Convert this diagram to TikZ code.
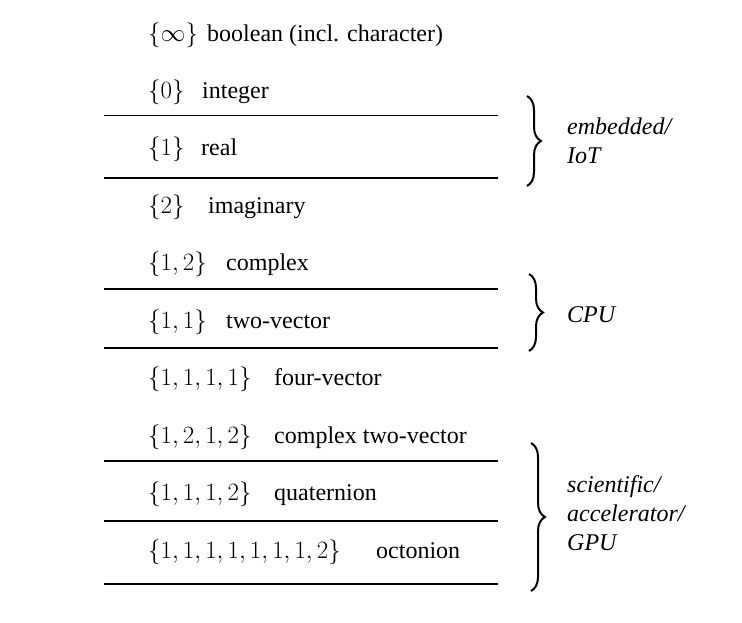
\documentclass[tikz,border=0pt]{standalone}
\usepackage{fontspec}
\setmainfont{Liberation Serif}
\usetikzlibrary{decorations.pathreplacing}
\tikzset{
  cell/.style={anchor=base west, inner sep=0pt, font=\fontsize{24}{28}\selectfont},
  setc/.style={anchor=base west, inner sep=0pt, font=\fontsize{25.5}{28}\selectfont},
  tag/.style={anchor=base west, inner sep=0pt, font=\fontsize{24}{29}\selectfont\itshape, align=left},
  sep/.style={line width=1.1pt},
  grp/.style={decorate, decoration={brace, amplitude=14pt}, line width=2pt}
}
\begin{document}
\begin{tikzpicture}[x=1pt,y=-1pt]
\useasboundingbox (0,0) rectangle (742,622);
% sets
\node[setc] (s1) at (148,41) {$\{\infty\}$};
\node[cell] (n1) at (207,41) {boolean (incl. character)};
\node[setc] (s2) at (148,98) {$\{0\}$};
\node[cell] (n2) at (202,98) {integer};
\node[setc] (s3) at (148,155) {$\{1\}$};
\node[cell] (n3) at (201,155) {real};
\node[setc] (s4) at (148,213) {$\{2\}$};
\node[cell] (n4) at (208,213) {imaginary};
\node[setc] (s5) at (148,270) {$\{1,2\}$};
\node[cell] (n5) at (226,270) {complex};
\node[setc] (s6) at (148,328) {$\{1,1\}$};
\node[cell] (n6) at (226,328) {two-vector};
\node[setc] (s7) at (148,385) {$\{1,1,1,1\}$};
\node[cell] (n7) at (274,385) {four-vector};
\node[setc] (s8) at (148,443) {$\{1,2,1,2\}$};
\node[cell] (n8) at (274,443) {complex two-vector};
\node[setc] (s9) at (148,500) {$\{1,1,1,2\}$};
\node[cell] (n9) at (274,500) {quaternion};
\node[setc] (s10) at (148,558) {$\{1,1,1,1,1,1,1,2\}$};
\node[cell] (n10) at (376,558) {octonion};
% separators
\foreach \y in {115.5,178,289,348,461,521,584}
  \draw[sep] (104,\y) -- (498,\y);
% braces
\coordinate (b1t) at (527,96);  \coordinate (b1b) at (527,186);
\coordinate (b2t) at (529,274); \coordinate (b2b) at (529,351);
\coordinate (b3t) at (531,443); \coordinate (b3b) at (531,591);
\draw[grp] (b1t) -- (b1b);
\draw[grp] (b2t) -- (b2b);
\draw[grp] (b3t) -- (b3b);
% labels
\node[tag] (l1) at (567,163) {embedded/\\IoT};
\node[tag] (l2) at (567,322) {CPU};
\node[tag] (l3) at (567,550) {scientific/\\accelerator/\\GPU};
\end{tikzpicture}
\end{document}
